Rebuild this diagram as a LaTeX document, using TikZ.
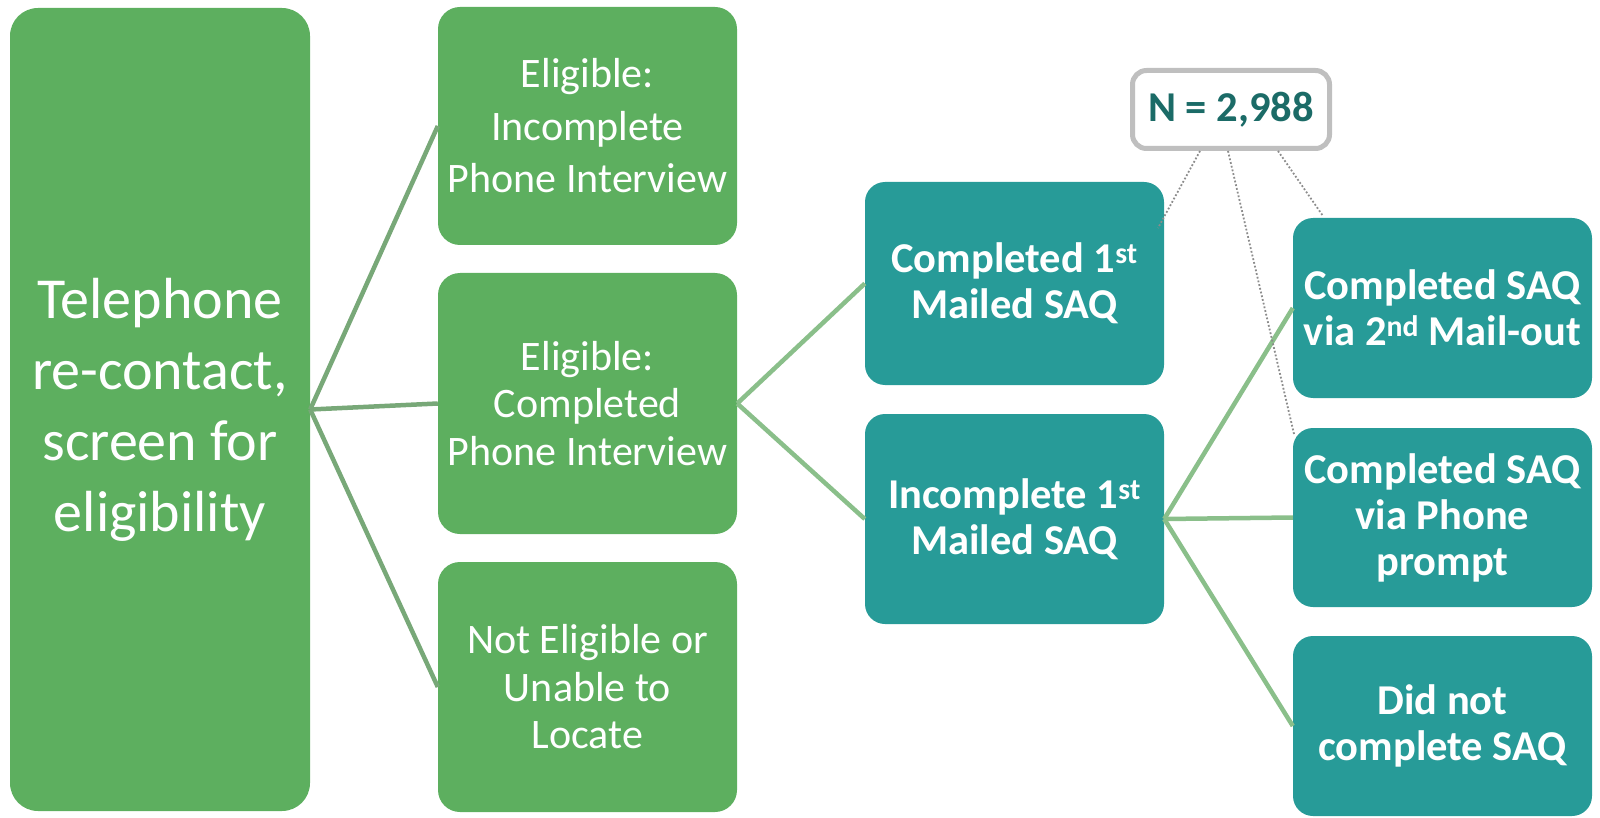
\documentclass[tikz,border=0pt]{standalone}
\usepackage{fontspec}
\setmainfont{Carlito}
\definecolor{gfill}{HTML}{5DAF5F}
\definecolor{tfill}{HTML}{279B98}
\definecolor{conA}{HTML}{78A878}
\definecolor{conB}{HTML}{8ABF8A}
\definecolor{ntext}{HTML}{1B6B67}
\definecolor{nborder}{HTML}{BFBFBF}
\begin{document}
\begin{tikzpicture}[x=1pt,y=-1pt,
  gbox/.style={fill=gfill, draw=none, rounded corners=22pt, text=white, align=center, inner sep=0pt},
  tbox/.style={fill=tfill, draw=none, rounded corners=20pt, text=white, align=center, inner sep=0pt, font=\bfseries\fontsize{42.5}{46}\selectfont},
  cona/.style={draw=conA, line width=4.5pt},
  conb/.style={draw=conB, line width=4.5pt},
  dots/.style={draw=gray!90, line width=1.8pt, dotted}]
\useasboundingbox (0,0) rectangle (1600,818);
% left
\node[gbox, rounded corners=28pt, minimum width=300, minimum height=803, font=\fontsize{58}{71}\selectfont] (L) at (160,409.5) {Telephone\\re-contact,\\screen for\\eligibility};
% column 2
\node[gbox, minimum width=299, minimum height=238, font=\fontsize{42}{52.5}\selectfont] (A1) at (587.5,126) {Eligible:\\Incomplete\\Phone Interview};
\node[gbox, minimum width=299, minimum height=261, font=\fontsize{42}{47.5}\selectfont] (A2) at (587.5,403.5) {Eligible:\\Completed\\Phone Interview};
\node[gbox, minimum width=299, minimum height=250, font=\fontsize{42}{47.5}\selectfont] (A3) at (587.5,687) {Not Eligible or\\Unable to\\Locate};
% column 3
\node[tbox, minimum width=299, minimum height=203] (B1) at (1014.5,283.5) {Completed 1\textsuperscript{st}\\Mailed SAQ};
\node[tbox, minimum width=299, minimum height=210] (B2) at (1014.5,519) {Incomplete 1\textsuperscript{st}\\Mailed SAQ};
% column 4
\node[tbox, minimum width=299, minimum height=180] (C1) at (1442.5,308) {Completed SAQ\\via 2\textsuperscript{nd} Mail-out};
\node[tbox, minimum width=299, minimum height=179] (C2) at (1442.5,517.5) {Completed SAQ\\via Phone\\prompt};
\node[tbox, minimum width=299, minimum height=180] (C3) at (1442.5,726) {Did not\\complete SAQ};
% N box
\node[draw=nborder, line width=5pt, fill=white, rounded corners=14pt, minimum width=197, minimum height=78, inner sep=0pt, text=ntext, font=\bfseries\fontsize{42.5}{48}\selectfont] (N) at (1231,109.5) {N = 2,988};
% connectors
\draw[cona] (L.east) -- (A1.west);
\draw[cona] (L.east) -- (A2.west);
\draw[cona] (L.east) -- (A3.west);
\draw[conb] (A2.east) -- (B1.west);
\draw[conb] (A2.east) -- (B2.west);
\draw[conb] (B2.east) -- (C1.west);
\draw[conb] (B2.east) -- (C2.west);
\draw[conb] (B2.east) -- (C3.west);
% dotted callout lines
\coordinate (d1) at (1158,228);
\coordinate (d2) at (1294,434);
\coordinate (d3) at (1323,216);
\draw[dots] ([xshift=-31pt]N.south) -- (d1);
\draw[dots] ([xshift=-3pt]N.south) -- (d2);
\draw[dots] ([xshift=47pt]N.south) -- (d3);
\end{tikzpicture}
\end{document}
